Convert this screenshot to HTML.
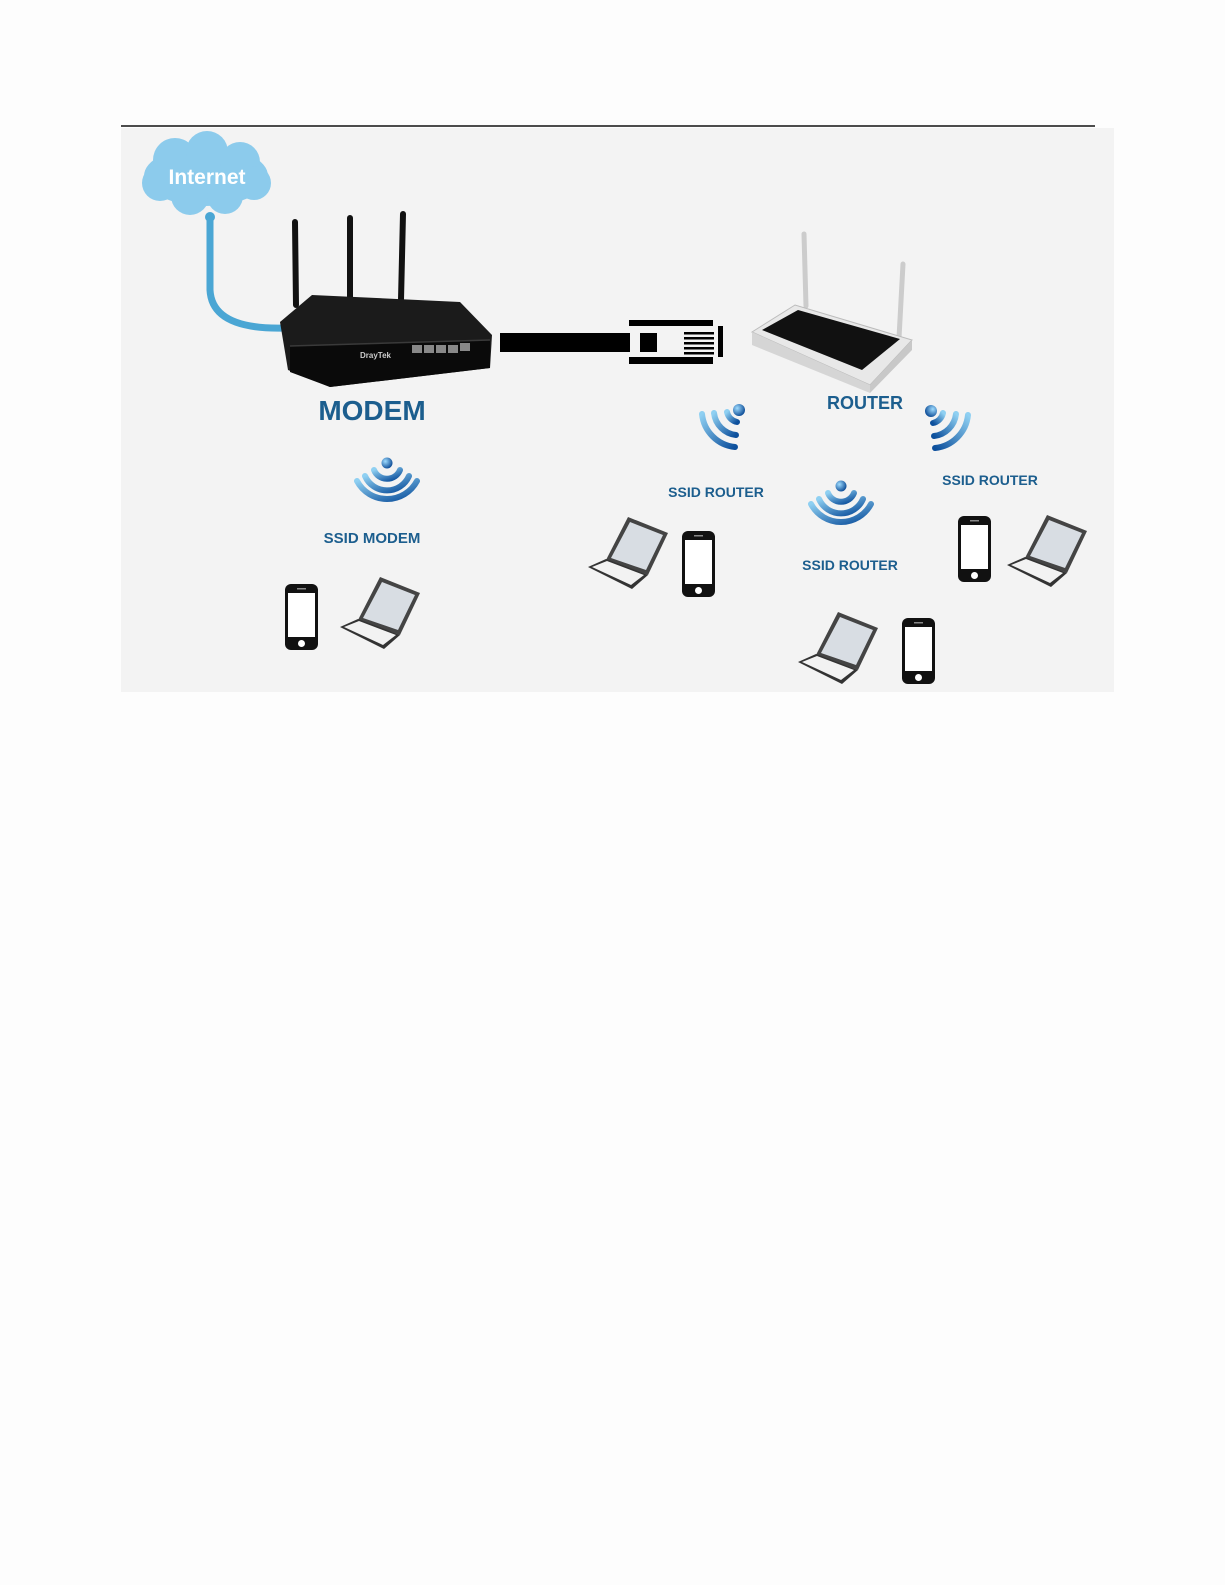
<!DOCTYPE html>
<html><head><meta charset="utf-8"><style>
html,body{margin:0;padding:0;background:#fdfdfd;}
svg{display:block;}
text{font-family:"Liberation Sans",sans-serif;font-weight:bold;}
</style></head><body>
<svg width="1225" height="1585" viewBox="0 0 1225 1585" xmlns="http://www.w3.org/2000/svg">
<defs>
<linearGradient id="wg" x1="0" y1="0" x2="1" y2="1"><stop offset="0" stop-color="#8fd0f2"/><stop offset="1" stop-color="#0c4f9c"/></linearGradient>
<radialGradient id="dg" cx="0.35" cy="0.35" r="0.7"><stop offset="0" stop-color="#9fdcff"/><stop offset="1" stop-color="#0b4a95"/></radialGradient>
<g id="phone">
<rect x="0" y="0" width="33" height="66" rx="6" fill="#111"/>
<rect x="3" y="9" width="27" height="44" fill="#fff"/>
<circle cx="16.5" cy="59.5" r="3.5" fill="#fff"/>
<rect x="12" y="4" width="9" height="1.5" fill="#888"/>
</g>
<g id="laptop">
<polygon points="20,45 42,2 82,18 62,60" fill="#444"/>
<polygon points="25,43 44,7 77,20 60,55" fill="#d8dde3"/>
<polygon points="2,52 20,44 62,60 46,74" fill="#333"/>
<polygon points="6,52 21,46 58,60 45,70" fill="#f2f2f2"/>
</g>
<g id="wdown">
<circle cx="0" cy="0" r="5.5" fill="url(#dg)"/>
<path d="M-13,7 A14,14 0 0 0 13,7" stroke="url(#wg)" stroke-width="6" fill="none" stroke-linecap="round"/>
<path d="M-22,13 A24,24 0 0 0 22,13" stroke="url(#wg)" stroke-width="6" fill="none" stroke-linecap="round"/>
<path d="M-30,18 A34,34 0 0 0 30,18" stroke="url(#wg)" stroke-width="6" fill="none" stroke-linecap="round"/>
</g>
<g id="wll">
<circle cx="0" cy="0" r="6" fill="url(#dg)"/>
<path d="M-12,2 A13,13 0 0 0 -2,12" stroke="url(#wg)" stroke-width="6" fill="none" stroke-linecap="round"/>
<path d="M-25,3 A25,25 0 0 0 -3,25" stroke="url(#wg)" stroke-width="6" fill="none" stroke-linecap="round"/>
<path d="M-37,4 A37,37 0 0 0 -4,37" stroke="url(#wg)" stroke-width="6" fill="none" stroke-linecap="round"/>
</g>
</defs>
<line x1="121" y1="126" x2="1095" y2="126" stroke="#111" stroke-width="1.5"/>
<rect x="121" y="128" width="993" height="564" fill="#f3f3f3"/>

<g fill="#8ccbec">
<ellipse cx="206" cy="176" rx="62" ry="30"/>
<circle cx="175" cy="160" r="22"/><circle cx="207" cy="152" r="21"/><circle cx="240" cy="162" r="20"/>
<circle cx="160" cy="183" r="18"/><circle cx="190" cy="196" r="19"/><circle cx="225" cy="196" r="18"/><circle cx="254" cy="183" r="17"/>
</g>
<text x="207" y="184" font-size="21" fill="#fff" text-anchor="middle">Internet</text>
<path d="M210,215 L210,290 Q212,330 285,328" stroke="#4aa6d4" stroke-width="7" fill="none"/>
<circle cx="210" cy="217" r="5" fill="#4aa6d4"/>

<g stroke="#111" stroke-width="6" stroke-linecap="round">
<line x1="295" y1="222" x2="296" y2="305"/><line x1="350" y1="218" x2="350" y2="300"/><line x1="403" y1="214" x2="401" y2="300"/>
</g>
<polygon points="280,322 312,295 460,302 492,335 490,368 330,387 288,370" fill="#1b1b1b"/>
<polygon points="290,346 490,340 490,368 330,387 290,372" fill="#0a0a0a"/>
<line x1="290" y1="346" x2="490" y2="340" stroke="#3a3a3a" stroke-width="1.5"/>
<g fill="#888"><rect x="412" y="345" width="10" height="8"/><rect x="424" y="345" width="10" height="8"/><rect x="436" y="345" width="10" height="8"/><rect x="448" y="345" width="10" height="8"/><rect x="460" y="343" width="10" height="8"/></g>
<text x="360" y="358" font-size="8" fill="#ccc">DrayTek</text>
<text x="372" y="420" font-size="28" fill="#1c5e8e" text-anchor="middle">MODEM</text>

<rect x="500" y="333" width="130" height="19" fill="#000"/>
<rect x="629" y="320" width="84" height="6" fill="#000"/>
<rect x="629" y="357" width="84" height="7" fill="#000"/>
<rect x="640" y="333" width="17" height="19" fill="#000"/>
<g fill="#000"><rect x="684" y="332" width="30" height="2.5"/><rect x="684" y="337" width="30" height="2.5"/><rect x="684" y="342" width="30" height="2.5"/><rect x="684" y="347" width="30" height="2.5"/><rect x="684" y="352" width="30" height="2.5"/></g>
<rect x="718" y="326" width="5" height="31" fill="#000"/>

<g stroke="#ccc" stroke-width="5" stroke-linecap="round">
<line x1="804" y1="234" x2="806" y2="306"/><line x1="903" y1="264" x2="899" y2="338"/>
</g>
<polygon points="752,332 795,305 912,340 870,385" fill="#e8e8e8" stroke="#bbb"/>
<polygon points="762,330 798,310 900,339 862,370" fill="#111"/>
<polygon points="752,332 870,385 870,393 752,345" fill="#d5d5d5"/>
<polygon points="870,385 912,340 912,350 870,393" fill="#c8c8c8"/>
<text x="865" y="409" font-size="18" fill="#1c5e8e" text-anchor="middle">ROUTER</text>

<use href="#wll" x="739" y="410"/>
<use href="#wll" x="931" y="411" transform="translate(1862,0) scale(-1,1)"/>
<use href="#wdown" x="387" y="463"/>
<use href="#wdown" x="841" y="486"/>

<text x="716" y="497" font-size="14" fill="#1c5e8e" text-anchor="middle">SSID ROUTER</text>
<text x="990" y="485" font-size="14" fill="#1c5e8e" text-anchor="middle">SSID ROUTER</text>
<text x="850" y="570" font-size="14" fill="#1c5e8e" text-anchor="middle">SSID ROUTER</text>
<text x="372" y="543" font-size="15" fill="#1c5e8e" text-anchor="middle">SSID MODEM</text>

<use href="#phone" x="285" y="584"/>
<use href="#phone" x="682" y="531"/>
<use href="#phone" x="958" y="516"/>
<use href="#phone" x="902" y="618"/>
<use href="#laptop" x="338" y="575"/>
<use href="#laptop" x="586" y="515"/>
<use href="#laptop" x="1005" y="513"/>
<use href="#laptop" x="796" y="610"/>
</svg>
</body></html>
